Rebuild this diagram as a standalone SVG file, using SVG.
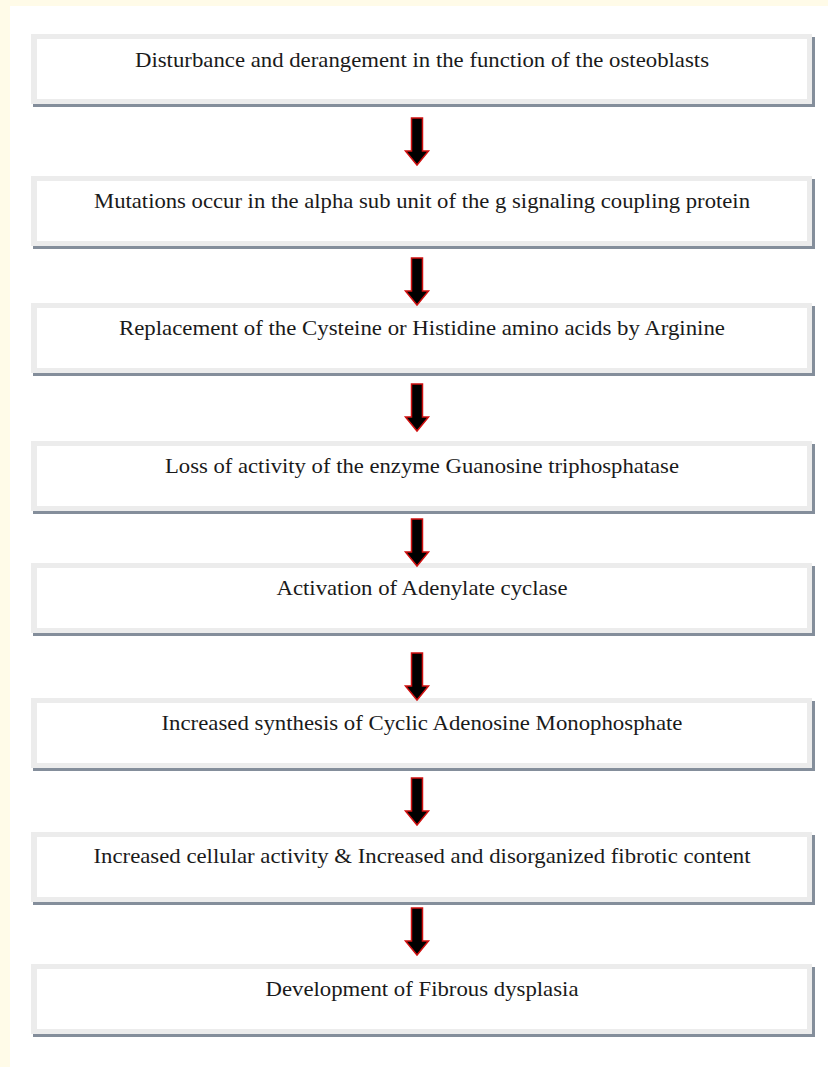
<svg xmlns="http://www.w3.org/2000/svg" width="828" height="1067" viewBox="0 0 828 1067">
  <style>
    .frame { fill: #ececec; }
    .inner { fill: #ffffff; }
    .shadow { fill: #848e9b; }
    .label { font-family: "Liberation Serif", "Times New Roman", serif; font-size: 21.5px; fill: #1a1a1a; text-anchor: middle; }
    .arrow { fill: #000000; stroke: #d01010; stroke-width: 1.5; stroke-linejoin: miter; }
  </style>
  <defs>
    <g id="box">
      <rect class="shadow" x="33" y="3" width="782" height="70"/>
      <rect class="frame" x="31" y="0" width="781" height="70"/>
      <rect class="inner" x="37" y="5" width="770" height="60"/>
    </g>
    <path id="arr" class="arrow" d="M -5.5 0 L 5.5 0 L 5.5 33 L 11.5 33 L 0 47 L -11.5 33 L -5.5 33 Z"/>
  </defs>
  <rect x="0" y="0" width="828" height="1067" fill="#fffbe8"/>
  <rect x="10" y="6" width="818" height="1061" fill="#ffffff"/>

  <g id="node1"><use href="#box" y="34"/><text class="label" x="422" y="67" textLength="574" lengthAdjust="spacingAndGlyphs">Disturbance and derangement in the function of the osteoblasts</text></g>
  <g id="node2"><use href="#box" y="176"/><text class="label" x="422" y="208" textLength="656" lengthAdjust="spacingAndGlyphs">Mutations occur in the alpha sub unit of the g signaling coupling protein</text></g>
  <g id="node3"><use href="#box" y="303"/><text class="label" x="422" y="335" textLength="606" lengthAdjust="spacingAndGlyphs">Replacement of the Cysteine or Histidine amino acids by Arginine</text></g>
  <g id="node4"><use href="#box" y="441"/><text class="label" x="422" y="473" textLength="514" lengthAdjust="spacingAndGlyphs">Loss of activity of the enzyme Guanosine triphosphatase</text></g>
  <g id="node5"><use href="#box" y="563"/><text class="label" x="422" y="595" textLength="291" lengthAdjust="spacingAndGlyphs">Activation of Adenylate cyclase</text></g>
  <g id="node6"><use href="#box" y="698"/><text class="label" x="422" y="730" textLength="521" lengthAdjust="spacingAndGlyphs">Increased synthesis of Cyclic Adenosine Monophosphate</text></g>
  <g id="node7"><use href="#box" y="832"/><text class="label" x="422" y="863" textLength="657" lengthAdjust="spacingAndGlyphs">Increased cellular activity &amp; Increased and disorganized fibrotic content</text></g>
  <g id="node8"><use href="#box" y="964"/><text class="label" x="422" y="996" textLength="313" lengthAdjust="spacingAndGlyphs">Development of Fibrous dysplasia</text></g>

  <g id="connectors">
    <use href="#arr" x="417" y="118"/>
    <use href="#arr" x="417" y="258"/>
    <use href="#arr" x="417" y="384"/>
    <use href="#arr" x="417" y="519"/>
    <use href="#arr" x="417" y="653"/>
    <use href="#arr" x="417" y="778"/>
    <use href="#arr" x="417" y="908"/>
  </g>
</svg>
